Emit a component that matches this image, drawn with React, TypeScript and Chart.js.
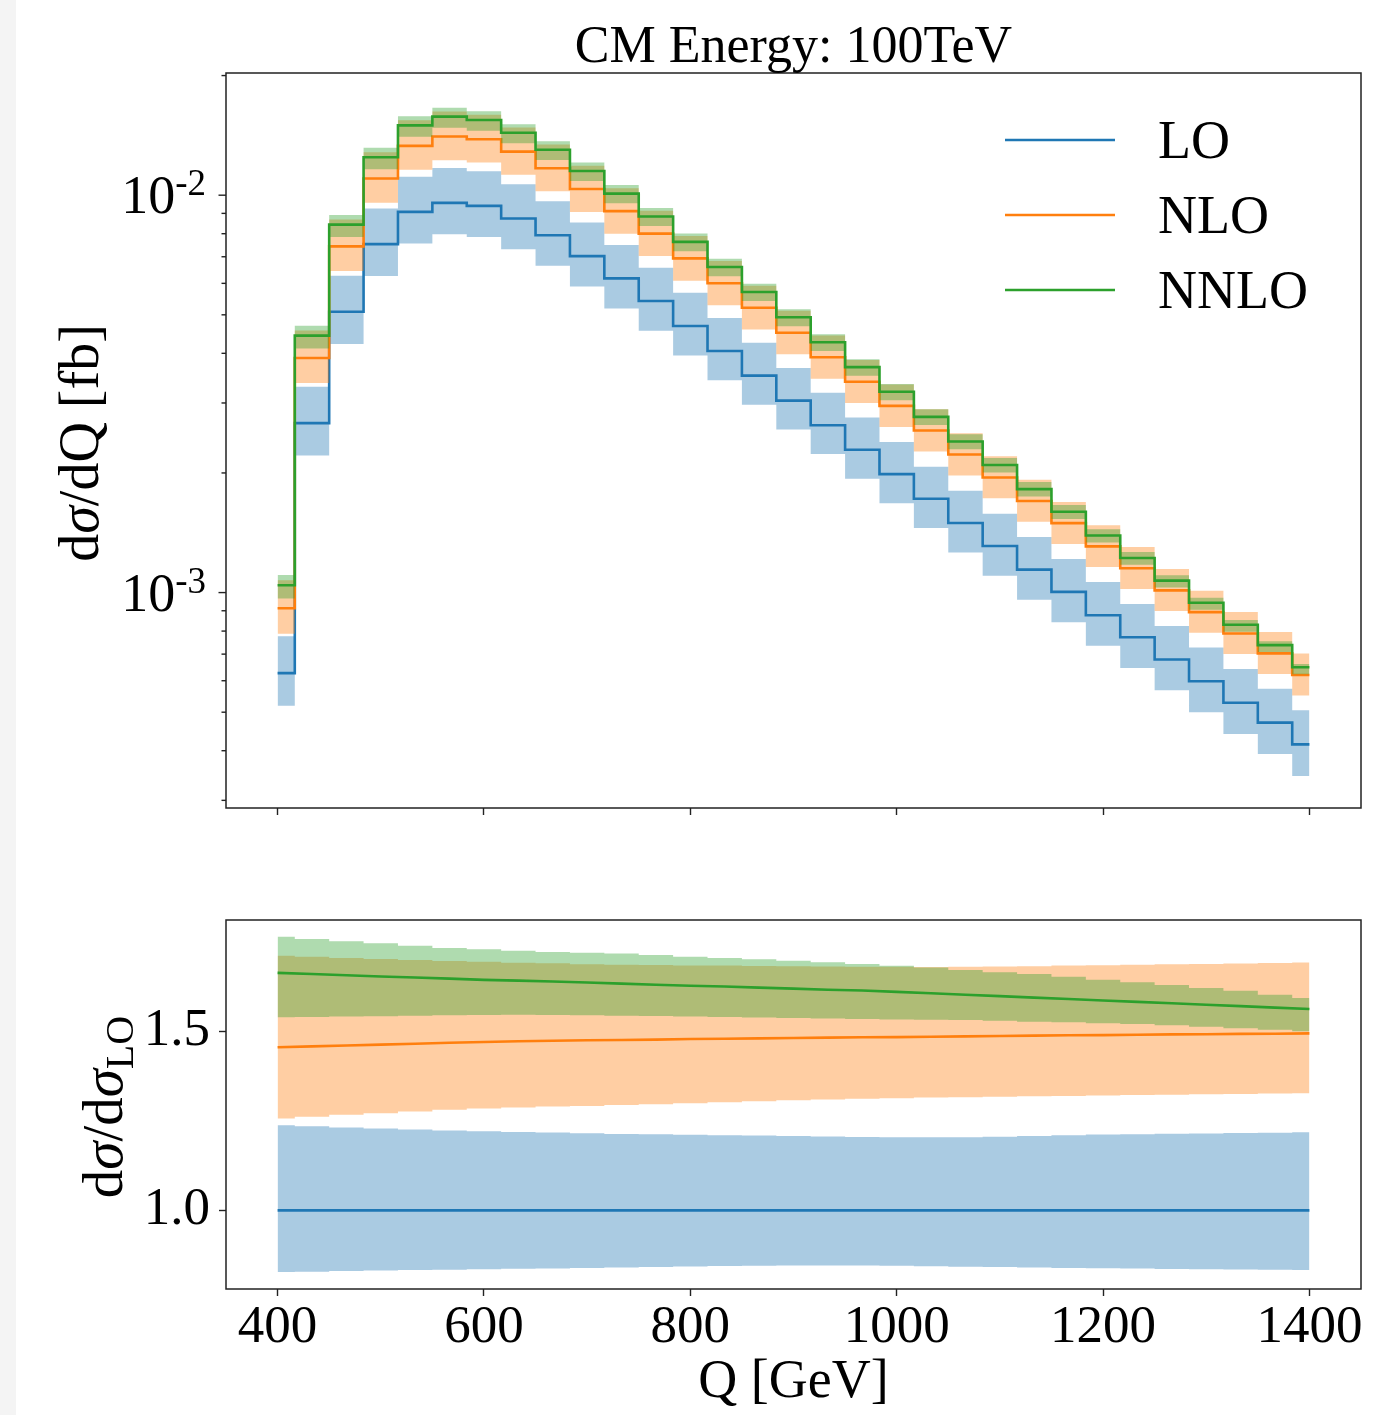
import React, { useEffect, useRef } from "react";
import { Chart, registerables } from "chart.js";

Chart.register(...registerables);

// ---------------- data ----------------
const Q_GEV = [
  400, 433.33, 466.67, 500, 533.33, 566.67, 600, 633.33, 666.67, 700, 733.33,
  766.67, 800, 833.33, 866.67, 900, 933.33, 966.67, 1000, 1033.33, 1066.67,
  1100, 1133.33, 1166.67, 1200, 1233.33, 1266.67, 1300, 1333.33, 1366.67, 1400,
];

// LO central value, dsigma/dQ [fb]
const LO_XSEC_FB = [
  6.27e-4, 2.669e-3, 5.088e-3, 7.53e-3, 9.079e-3, 9.565e-3, 9.4e-3, 8.739e-3,
  7.931e-3, 7.026e-3, 6.175e-3, 5.418e-3, 4.688e-3, 4.056e-3, 3.516e-3,
  3.042e-3, 2.637e-3, 2.287e-3, 1.987e-3, 1.722e-3, 1.497e-3, 1.31e-3,
  1.142e-3, 1.004e-3, 8.77e-4, 7.72e-4, 6.787e-4, 5.984e-4, 5.283e-4,
  4.706e-4, 4.149e-4,
];

// ratios to LO central (bottom panel)
const RATIO_LO_DOWN = [
  0.8272, 0.8285, 0.83, 0.8315, 0.8328, 0.834, 0.8352, 0.8364, 0.8376, 0.839,
  0.8402, 0.8415, 0.8428, 0.844, 0.845, 0.8458, 0.8459, 0.8455, 0.8447,
  0.8437, 0.8425, 0.8412, 0.84, 0.839, 0.838, 0.837, 0.8362, 0.8353, 0.8345,
  0.8336, 0.8328,
];
const RATIO_LO_UP = [
  1.238, 1.2353, 1.2316, 1.2288, 1.226, 1.2232, 1.2213, 1.2194, 1.2176,
  1.2155, 1.2138, 1.2126, 1.2114, 1.2102, 1.209, 1.2078, 1.2066, 1.2054,
  1.2045, 1.2045, 1.2045, 1.206, 1.208, 1.21, 1.212, 1.213, 1.214, 1.215,
  1.216, 1.2172, 1.2185,
];
const RATIO_NLO_CENTRAL = [
  1.456, 1.4585, 1.461, 1.4635, 1.466, 1.4685, 1.471, 1.473, 1.4745, 1.4755,
  1.4765, 1.4775, 1.479, 1.48, 1.481, 1.482, 1.483, 1.484, 1.4845, 1.4855,
  1.4865, 1.4875, 1.4885, 1.4895, 1.49, 1.491, 1.492, 1.4925, 1.4935, 1.494,
  1.495,
];
const RATIO_NLO_DOWN = [
  1.2569, 1.2614, 1.267, 1.2717, 1.2765, 1.281, 1.285, 1.2877, 1.2905, 1.292,
  1.2945, 1.297, 1.2997, 1.3025, 1.3053, 1.308, 1.31, 1.3118, 1.3137, 1.3157,
  1.3165, 1.318, 1.319, 1.32, 1.3215, 1.3225, 1.3235, 1.3245, 1.3255, 1.3265,
  1.3277,
];
const RATIO_NLO_UP = [
  1.7123, 1.7095, 1.706, 1.703, 1.7, 1.6975, 1.6955, 1.6927, 1.691, 1.688,
  1.6865, 1.686, 1.685, 1.6845, 1.6835, 1.6825, 1.682, 1.6815, 1.681, 1.6805,
  1.6815, 1.682, 1.683, 1.6845, 1.6855, 1.687, 1.688, 1.689, 1.6905, 1.692,
  1.693,
];
const RATIO_NNLO_CENTRAL = [
  1.664, 1.661, 1.6575, 1.654, 1.651, 1.648, 1.6445, 1.6425, 1.64, 1.637,
  1.634, 1.631, 1.628, 1.626, 1.623, 1.62, 1.617, 1.615, 1.611, 1.607, 1.603,
  1.599, 1.595, 1.591, 1.587, 1.583, 1.579, 1.575, 1.571, 1.567, 1.563,
];
const RATIO_NNLO_DOWN = [
  1.54, 1.541, 1.542, 1.543, 1.5445, 1.5455, 1.5465, 1.547, 1.5465, 1.5455,
  1.5445, 1.5435, 1.542, 1.541, 1.5395, 1.538, 1.5365, 1.535, 1.534, 1.533,
  1.532, 1.5305, 1.5275, 1.5258, 1.523, 1.521, 1.5175, 1.5135, 1.509, 1.505,
  1.5006,
];
const RATIO_NNLO_UP = [
  1.7655, 1.759, 1.7527, 1.747, 1.74, 1.734, 1.73, 1.726, 1.7227, 1.7205,
  1.718, 1.7143, 1.7095, 1.706, 1.702, 1.698, 1.6938, 1.689, 1.6843, 1.6795,
  1.6723, 1.6658, 1.661, 1.6535, 1.645, 1.6378, 1.63, 1.6218, 1.6143, 1.603,
  1.5938,
];

const X_TICKS = [400, 600, 800, 1000, 1200, 1400];
const TOP_Y_MAJOR_TICKS = [1e-3, 1e-2];
const TOP_Y_MINOR_TICKS = [
  3e-4, 4e-4, 5e-4, 6e-4, 7e-4, 8e-4, 9e-4, 2e-3, 3e-3, 4e-3, 5e-3, 6e-3,
  7e-3, 8e-3, 9e-3, 2e-2,
];
const RATIO_TICKS = [1.0, 1.5];
const LEGEND_LABELS = ["LO", "NLO", "NNLO"];
const TITLE_TEXT = "CM Energy: 100TeV";

// ---------------- styling ----------------
const W = 1384;
const TOP_H = 870;
const BOT_TOP = 870;
const BOT_H = 1415 - 870;
const FONT_FAMILY = '"Liberation Serif", "DejaVu Serif", serif';
const AXIS_COLOR = "#222";
const C_LO = "#1f77b4";
const C_NLO = "#ff7f0e";
const C_NNLO = "#2ca02c";
const B_LO = "rgba(31,119,180,0.38)";
const B_NLO = "rgba(255,127,14,0.38)";
const B_NNLO = "rgba(44,160,44,0.38)";
const LINE_W = 2.6;

const fontStr = (size: number, italic = false) =>
  `${italic ? "italic " : ""}${size}px ${FONT_FAMILY}`;

type Run = { t: string; size: number; italic?: boolean; dy?: number };

function runsWidth(ctx: CanvasRenderingContext2D, runs: Run[]) {
  let w = 0;
  for (const r of runs) {
    ctx.font = fontStr(r.size, r.italic);
    w += ctx.measureText(r.t).width;
  }
  return w;
}

function drawRuns(
  ctx: CanvasRenderingContext2D,
  runs: Run[],
  x: number,
  y: number,
  align: "left" | "right" | "center"
) {
  const w = runsWidth(ctx, runs);
  let cx = align === "left" ? x : align === "right" ? x - w : x - w / 2;
  ctx.textAlign = "left";
  ctx.textBaseline = "alphabetic";
  ctx.fillStyle = "#000";
  for (const r of runs) {
    ctx.font = fontStr(r.size, r.italic);
    ctx.fillText(r.t, cx, y + (r.dy || 0));
    cx += ctx.measureText(r.t).width;
  }
}

function drawRotatedRuns(
  ctx: CanvasRenderingContext2D,
  runs: Run[],
  baselineX: number,
  centerY: number
) {
  ctx.save();
  ctx.translate(baselineX, centerY);
  ctx.rotate(-Math.PI / 2);
  drawRuns(ctx, runs, 0, 0, "center");
  ctx.restore();
}

const pts = (vals: number[]) => Q_GEV.map((x, i) => ({ x, y: vals[i] }));
const timesLO = (ratio: number[]) => LO_XSEC_FB.map((v, i) => v * ratio[i]);

type Series = {
  label: string;
  color: string;
  band: string;
  central: number[];
  down: number[];
  up: number[];
};

function buildDatasets(series: Series[], centralStepped: boolean) {
  const out: any[] = [];
  for (const s of series) {
    out.push({
      label: s.label,
      data: pts(s.central),
      borderColor: s.color,
      borderWidth: LINE_W,
      pointRadius: 0,
      fill: false,
      tension: 0,
      stepped: centralStepped ? "middle" : false,
    });
    out.push({
      label: s.label + " upper",
      data: pts(s.up),
      borderColor: "rgba(0,0,0,0)",
      borderWidth: 1,
      backgroundColor: s.band,
      pointRadius: 0,
      fill: "+1",
      stepped: "middle",
    });
    out.push({
      label: s.label + " lower",
      data: pts(s.down),
      borderColor: "rgba(0,0,0,0)",
      borderWidth: 1,
      pointRadius: 0,
      fill: false,
      stepped: "middle",
    });
  }
  return out;
}

function frame(chart: any) {
  const { ctx, chartArea: a } = chart;
  ctx.save();
  ctx.strokeStyle = AXIS_COLOR;
  ctx.lineWidth = 1.5;
  ctx.strokeRect(a.left, a.top, a.right - a.left, a.bottom - a.top);
  ctx.restore();
}

const topDecor = {
  id: "topDecor",
  afterDraw(chart: any) {
    const ctx: CanvasRenderingContext2D = chart.ctx;
    const a = chart.chartArea;
    const ys = chart.scales.y;
    frame(chart);
    // y ticks (log, major + minor)
    ctx.save();
    ctx.strokeStyle = AXIS_COLOR;
    ctx.lineWidth = 1.4;
    const tick = (v: number, len: number) => {
      const py = ys.getPixelForValue(v);
      ctx.beginPath();
      ctx.moveTo(a.left - len, py);
      ctx.lineTo(a.left, py);
      ctx.stroke();
    };
    TOP_Y_MINOR_TICKS.forEach((v) => tick(v, 4.5));
    TOP_Y_MAJOR_TICKS.forEach((v) => tick(v, 7.5));
    ctx.restore();
    // y tick labels 10^n
    TOP_Y_MAJOR_TICKS.forEach((v) => {
      const py = ys.getPixelForValue(v);
      const exp = String(Math.round(Math.log10(v)));
      drawRuns(
        ctx,
        [
          { t: "10", size: 54 },
          { t: exp, size: 37, dy: -18 },
        ],
        a.left - 20,
        py + 18,
        "right"
      );
    });
    // title
    drawRuns(ctx, [{ t: TITLE_TEXT, size: 52 }], (a.left + a.right) / 2, 62, "center");
    // y axis title
    drawRotatedRuns(
      ctx,
      [
        { t: "d", size: 56 },
        { t: "σ", size: 56, italic: true },
        { t: "/dQ [fb]", size: 56 },
      ],
      98,
      443
    );
    // legend
    const legendColors = [C_LO, C_NLO, C_NNLO];
    const legendY = [140, 215, 290];
    LEGEND_LABELS.forEach((lab, i) => {
      ctx.save();
      ctx.strokeStyle = legendColors[i];
      ctx.lineWidth = LINE_W;
      ctx.beginPath();
      ctx.moveTo(1005, legendY[i]);
      ctx.lineTo(1115, legendY[i]);
      ctx.stroke();
      ctx.restore();
      drawRuns(ctx, [{ t: lab, size: 54 }], 1158, legendY[i] + 18, "left");
    });
  },
};

const bottomDecor = {
  id: "bottomDecor",
  afterDraw(chart: any) {
    const ctx: CanvasRenderingContext2D = chart.ctx;
    const a = chart.chartArea;
    frame(chart);
    drawRotatedRuns(
      ctx,
      [
        { t: "d", size: 57 },
        { t: "σ", size: 57, italic: true },
        { t: "/d", size: 57 },
        { t: "σ", size: 57, italic: true },
        { t: "LO", size: 40, dy: 11 },
      ],
      122,
      1107 - BOT_TOP
    );
    drawRuns(ctx, [{ t: "Q [GeV]", size: 54 }], (a.left + a.right) / 2, 1397 - BOT_TOP, "center");
  },
};

const xTicksFixed = (s: any) => {
  s.ticks = X_TICKS.map((v) => ({ value: v }));
};

export default function App() {
  const topRef = useRef<HTMLCanvasElement | null>(null);
  const botRef = useRef<HTMLCanvasElement | null>(null);

  useEffect(() => {
    document.body.style.margin = "0";
    document.body.style.background = "#fff";
    const topSeries: Series[] = [
      {
        label: "NNLO",
        color: C_NNLO,
        band: B_NNLO,
        central: timesLO(RATIO_NNLO_CENTRAL),
        down: timesLO(RATIO_NNLO_DOWN),
        up: timesLO(RATIO_NNLO_UP),
      },
      {
        label: "NLO",
        color: C_NLO,
        band: B_NLO,
        central: timesLO(RATIO_NLO_CENTRAL),
        down: timesLO(RATIO_NLO_DOWN),
        up: timesLO(RATIO_NLO_UP),
      },
      {
        label: "LO",
        color: C_LO,
        band: B_LO,
        central: LO_XSEC_FB,
        down: timesLO(RATIO_LO_DOWN),
        up: timesLO(RATIO_LO_UP),
      },
    ];
    const botSeries: Series[] = [
      {
        label: "NNLO",
        color: C_NNLO,
        band: B_NNLO,
        central: RATIO_NNLO_CENTRAL,
        down: RATIO_NNLO_DOWN,
        up: RATIO_NNLO_UP,
      },
      {
        label: "NLO",
        color: C_NLO,
        band: B_NLO,
        central: RATIO_NLO_CENTRAL,
        down: RATIO_NLO_DOWN,
        up: RATIO_NLO_UP,
      },
      {
        label: "LO",
        color: C_LO,
        band: B_LO,
        central: LO_XSEC_FB.map((v, i) => v / LO_XSEC_FB[i]),
        down: RATIO_LO_DOWN,
        up: RATIO_LO_UP,
      },
    ];

    const common: any = {
      responsive: false,
      animation: false,
      devicePixelRatio: 1,
      plugins: { legend: { display: false }, tooltip: { enabled: false }, title: { display: false } },
      events: [],
    };

    const top = new Chart(topRef.current as HTMLCanvasElement, {
      type: "line",
      data: { datasets: buildDatasets(topSeries, true) },
      options: {
        ...common,
        layout: { padding: { left: 0, right: W - 1361, top: 73, bottom: 0 } },
        scales: {
          x: {
            type: "linear",
            min: 350,
            max: 1450,
            afterBuildTicks: xTicksFixed,
            ticks: { display: false },
            grid: { drawOnChartArea: false, drawTicks: true, tickLength: 7, tickWidth: 1.4, tickColor: AXIS_COLOR },
            border: { display: false },
            afterFit: (s: any) => {
              s.height = TOP_H - 808;
            },
          },
          y: {
            type: "logarithmic",
            min: 2.87e-4,
            max: 0.0203,
            ticks: { display: false },
            grid: { display: false },
            border: { display: false },
            afterFit: (s: any) => {
              s.width = 226;
            },
          },
        },
      } as any,
      plugins: [topDecor],
    });

    const bot = new Chart(botRef.current as HTMLCanvasElement, {
      type: "line",
      data: { datasets: buildDatasets(botSeries, false) },
      options: {
        ...common,
        layout: { padding: { left: 0, right: W - 1361, top: 920 - BOT_TOP, bottom: 0 } },
        scales: {
          x: {
            type: "linear",
            min: 350,
            max: 1450,
            afterBuildTicks: xTicksFixed,
            ticks: {
              display: true,
              autoSkip: false,
              maxRotation: 0,
              padding: 0,
              color: "#000",
              font: { family: FONT_FAMILY, size: 53, lineHeight: 1.2 },
              callback: (v: any) => String(v),
            },
            grid: { drawOnChartArea: false, drawTicks: true, tickLength: 7, tickWidth: 1.4, tickColor: AXIS_COLOR },
            border: { display: false },
            afterFit: (s: any) => {
              s.height = BOT_H - (1289 - BOT_TOP);
            },
          },
          y: {
            type: "linear",
            min: 0.78,
            max: 1.812,
            afterBuildTicks: (s: any) => {
              s.ticks = RATIO_TICKS.map((v) => ({ value: v }));
            },
            ticks: {
              padding: 9,
              color: "#000",
              font: { family: FONT_FAMILY, size: 53, lineHeight: 1.2 },
              callback: (v: any) => Number(v).toFixed(1),
            },
            grid: { drawOnChartArea: false, drawTicks: true, tickLength: 7, tickWidth: 1.4, tickColor: AXIS_COLOR },
            border: { display: false },
            afterFit: (s: any) => {
              s.width = 226;
            },
          },
        },
      } as any,
      plugins: [bottomDecor],
    });

    return () => {
      top.destroy();
      bot.destroy();
    };
  }, []);

  return (
    <div style={{ position: "absolute", left: 0, top: 0, width: W, height: 1415, background: "#fff", overflow: "hidden" }}>
      <div style={{ position: "absolute", left: 0, top: 0, width: 16, height: 1415, background: "#f4f4f4" }} />
      <canvas
        ref={topRef}
        width={W}
        height={TOP_H}
        style={{ position: "absolute", left: 0, top: 0, width: W, height: TOP_H, display: "block" }}
      />
      <canvas
        ref={botRef}
        width={W}
        height={BOT_H}
        style={{ position: "absolute", left: 0, top: BOT_TOP, width: W, height: BOT_H, display: "block" }}
      />
    </div>
  );
}
